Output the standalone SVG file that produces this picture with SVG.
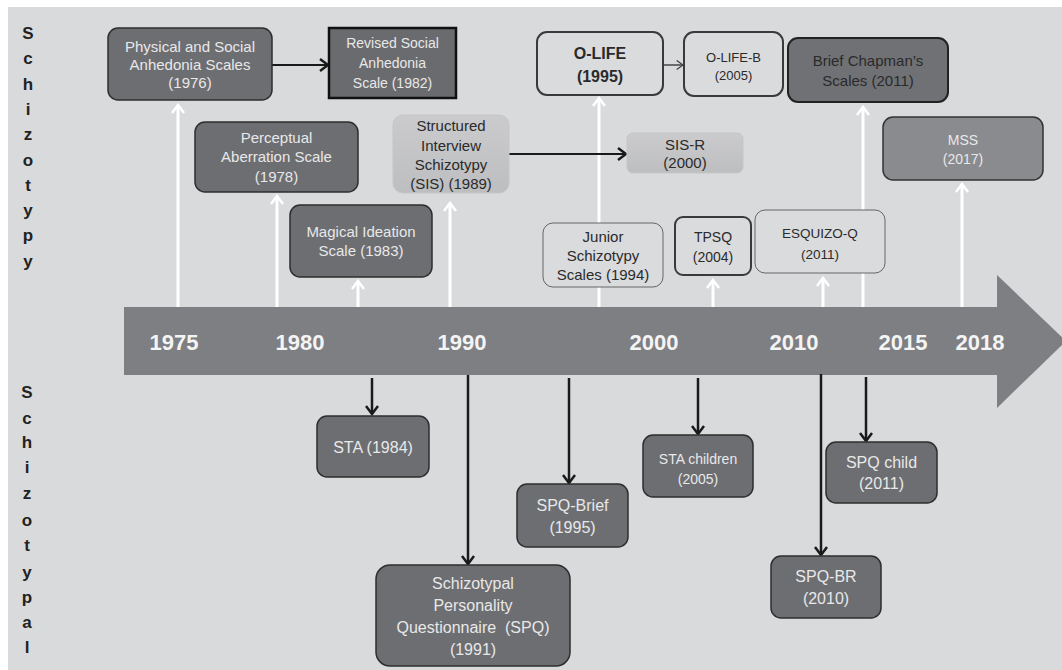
<svg xmlns="http://www.w3.org/2000/svg" width="1062" height="670" viewBox="0 0 1062 670">
<style>
text{font-family:"Liberation Sans",Arial,sans-serif;text-anchor:middle}
.dark{fill:#6d6e72;stroke:#2e2e2e;stroke-width:1.5}
.lt{fill:#e8e8e8;font-size:15px}
.dk{fill:#2a2a2a;font-size:15px}
.open{fill:#dadbdd;stroke:#3a3a3a;stroke-width:2}
.thin{fill:#dadbdd;stroke:#666;stroke-width:1}
.year{fill:#f4f4f4;font-size:22px;font-weight:bold}
.side{fill:#222;font-size:17px;font-weight:bold}
.up{stroke:#fff;stroke-width:3;fill:none;marker-end:url(#wh)}
.down{stroke:#1a1a1a;stroke-width:2.5;fill:none;marker-end:url(#bk)}
</style>
<defs>
<marker id="wh" viewBox="0 0 12 14" refX="10" refY="7" markerWidth="12" markerHeight="14" markerUnits="userSpaceOnUse" orient="auto">
<path d="M2,1 L10,7 L2,13" fill="none" stroke="#fff" stroke-width="2.5"/>
</marker>
<marker id="bk" viewBox="0 0 12 14" refX="10" refY="7" markerWidth="12" markerHeight="14" markerUnits="userSpaceOnUse" orient="auto">
<path d="M2,1 L10,7 L2,13" fill="none" stroke="#1a1a1a" stroke-width="2.5"/>
</marker>
<marker id="gr" viewBox="0 0 10 12" refX="9" refY="6" markerWidth="9" markerHeight="11" markerUnits="userSpaceOnUse" orient="auto">
<path d="M2,1 L9,6 L2,11" fill="none" stroke="#444" stroke-width="1.5"/>
</marker>
<linearGradient id="sis" x1="0" y1="0" x2="0" y2="1">
<stop offset="0" stop-color="#cbcbcd"/><stop offset="1" stop-color="#bdbec0"/>
</linearGradient>
</defs>
<rect x="8" y="7" width="1054" height="663" fill="#d9dadc"/>
<g id="side-labels">
<text class="side"><tspan x="28" y="39">S</tspan><tspan x="28" y="64">c</tspan><tspan x="28" y="90">h</tspan><tspan x="28" y="115">i</tspan><tspan x="28" y="140">z</tspan><tspan x="28" y="166">o</tspan><tspan x="28" y="191">t</tspan><tspan x="28" y="216">y</tspan><tspan x="28" y="241">p</tspan><tspan x="28" y="267">y</tspan></text>
<text class="side"><tspan x="27" y="398">S</tspan><tspan x="27" y="424">c</tspan><tspan x="27" y="448">h</tspan><tspan x="27" y="473">i</tspan><tspan x="27" y="499">z</tspan><tspan x="27" y="526">o</tspan><tspan x="27" y="551">t</tspan><tspan x="27" y="578">y</tspan><tspan x="27" y="603">p</tspan><tspan x="27" y="628">a</tspan><tspan x="27" y="653">l</tspan></text>
</g>
<g id="timeline">
<path d="M124,307 H997 V275 L1066,341 L997,408 V375 H124 Z" fill="#7e7f83"/>
<text class="year" x="174" y="350">1975</text>
<text class="year" x="300" y="350">1980</text>
<text class="year" x="462" y="350">1990</text>
<text class="year" x="654" y="350">2000</text>
<text class="year" x="794" y="350">2010</text>
<text class="year" x="903" y="350">2015</text>
<text class="year" x="980" y="350">2018</text>
</g>
<g id="connectors">
<line class="up" x1="178" y1="307" x2="178" y2="105"/>
<line class="up" x1="277" y1="307" x2="277" y2="196"/>
<line class="up" x1="358" y1="307" x2="358" y2="281"/>
<line class="up" x1="450" y1="307" x2="450" y2="203"/>
<line class="up" x1="599" y1="307" x2="599" y2="98"/>
<line class="up" x1="713" y1="307" x2="713" y2="280"/>
<line class="up" x1="823" y1="307" x2="823" y2="278"/>
<line class="up" x1="863" y1="307" x2="863" y2="107"/>
<line class="up" x1="962" y1="307" x2="962" y2="184"/>
<line x1="272" y1="65" x2="328" y2="65" stroke="#1a1a1a" stroke-width="2" marker-end="url(#bk)"/>
<line x1="509" y1="154" x2="626" y2="154" stroke="#1a1a1a" stroke-width="2" marker-end="url(#bk)"/>
<line x1="663" y1="65" x2="683" y2="65" stroke="#444" stroke-width="1.5" marker-end="url(#gr)"/>
<line class="down" x1="372" y1="378" x2="372" y2="414"/>
<line class="down" x1="468" y1="375" x2="468" y2="564"/>
<line class="down" x1="569" y1="378" x2="569" y2="483"/>
<line class="down" x1="698" y1="378" x2="698" y2="434"/>
<line class="down" x1="821" y1="374" x2="821" y2="555"/>
<line class="down" x1="866" y1="377" x2="866" y2="441"/>
</g>
<g id="physical-social-anhedonia">
<rect class="dark" x="108" y="28" width="164" height="72" rx="10"/>
<text class="lt"><tspan x="190" y="52">Physical and Social</tspan><tspan x="190" y="70">Anhedonia Scales</tspan><tspan x="190" y="88">(1976)</tspan></text>
</g>
<g id="revised-social-anhedonia">
<rect x="329" y="28" width="127" height="70" fill="#6a6b6e" stroke="#111" stroke-width="2.5"/>
<text class="lt" style="font-size:14px"><tspan x="392.5" y="48">Revised Social</tspan><tspan x="392.5" y="68">Anhedonia</tspan><tspan x="392.5" y="88">Scale (1982)</tspan></text>
</g>
<g id="perceptual-aberration">
<rect class="dark" x="195" y="122" width="163" height="70" rx="10"/>
<text class="lt"><tspan x="276.5" y="143">Perceptual</tspan><tspan x="276.5" y="162">Aberration Scale</tspan><tspan x="276.5" y="182">(1978)</tspan></text>
</g>
<g id="magical-ideation">
<rect class="dark" x="290" y="205" width="142" height="72" rx="10"/>
<text class="lt"><tspan x="361" y="237">Magical Ideation</tspan><tspan x="361" y="256">Scale (1983)</tspan></text>
</g>
<g id="sis">
<rect x="393" y="115" width="116" height="78" rx="10" fill="url(#sis)" stroke="#c6c6c8" stroke-width="1"/>
<text class="dk"><tspan x="451" y="131">Structured</tspan><tspan x="451" y="151">Interview</tspan><tspan x="451" y="170">Schizotypy</tspan><tspan x="451" y="189">(SIS) (1989)</tspan></text>
</g>
<g id="sis-r">
<rect x="627" y="133" width="116" height="40" rx="6" fill="url(#sis)" stroke="#c6c6c8" stroke-width="1"/>
<text class="dk"><tspan x="685" y="150">SIS-R</tspan><tspan x="685" y="168">(2000)</tspan></text>
</g>
<g id="o-life">
<rect class="open" x="537" y="32" width="126" height="63" rx="10"/>
<text class="dk" style="font-size:16px;font-weight:bold"><tspan x="600" y="59">O-LIFE</tspan><tspan x="600" y="82">(1995)</tspan></text>
</g>
<g id="o-life-b">
<rect class="open" x="684" y="32" width="99" height="64" rx="10"/>
<text class="dk" style="font-size:13px"><tspan x="733.5" y="62">O-LIFE-B</tspan><tspan x="733.5" y="80">(2005)</tspan></text>
</g>
<g id="brief-chapman">
<rect x="788" y="38" width="160" height="64" rx="10" fill="#707175" stroke="#222" stroke-width="2"/>
<text class="dk"><tspan x="868" y="66">Brief Chapman’s</tspan><tspan x="868" y="86">Scales (2011)</tspan></text>
</g>
<g id="mss">
<rect x="883" y="117" width="160" height="63" rx="10" fill="#8a8b8f" stroke="#333" stroke-width="1.5"/>
<text class="lt" style="font-size:14px"><tspan x="963" y="145">MSS</tspan><tspan x="963" y="164">(2017)</tspan></text>
</g>
<g id="junior-schizotypy">
<rect class="thin" x="543" y="223" width="120" height="64" rx="10"/>
<text class="dk"><tspan x="603" y="242">Junior</tspan><tspan x="603" y="261">Schizotypy</tspan><tspan x="603" y="280">Scales (1994)</tspan></text>
</g>
<g id="tpsq">
<rect class="open" x="675" y="217" width="76" height="58" rx="8"/>
<text class="dk" style="font-size:14px"><tspan x="713" y="242">TPSQ</tspan><tspan x="713" y="262">(2004)</tspan></text>
</g>
<g id="esquizo-q">
<rect class="thin" x="755" y="210" width="130" height="63" rx="10"/>
<text class="dk" style="font-size:13.5px"><tspan x="820" y="238">ESQUIZO-Q</tspan><tspan x="820" y="259">(2011)</tspan></text>
</g>
<g id="sta">
<rect class="dark" x="317" y="416" width="112" height="61" rx="10"/>
<text class="lt" style="font-size:16px" x="373" y="453">STA (1984)</text>
</g>
<g id="spq">
<rect class="dark" x="376" y="565" width="194" height="101" rx="14"/>
<text class="lt" style="font-size:16px;white-space:pre" xml:space="preserve"><tspan x="473" y="589">Schizotypal</tspan><tspan x="473" y="611">Personality</tspan><tspan x="473" y="633">Questionnaire  (SPQ)</tspan><tspan x="473" y="655">(1991)</tspan></text>
</g>
<g id="spq-brief">
<rect class="dark" x="517" y="484" width="111" height="63" rx="10"/>
<text class="lt" style="font-size:16px"><tspan x="572.5" y="511">SPQ-Brief</tspan><tspan x="572.5" y="533">(1995)</tspan></text>
</g>
<g id="sta-children">
<rect class="dark" x="643" y="435" width="110" height="62" rx="10"/>
<text class="lt" style="font-size:14px"><tspan x="698" y="464">STA children</tspan><tspan x="698" y="484">(2005)</tspan></text>
</g>
<g id="spq-child">
<rect class="dark" x="826" y="442" width="111" height="61" rx="10"/>
<text class="lt" style="font-size:16px"><tspan x="881.5" y="468">SPQ child</tspan><tspan x="881.5" y="489">(2011)</tspan></text>
</g>
<g id="spq-br">
<rect class="dark" x="771" y="556" width="110" height="62" rx="10"/>
<text class="lt" style="font-size:16px"><tspan x="826" y="582">SPQ-BR</tspan><tspan x="826" y="604">(2010)</tspan></text>
</g>
</svg>
